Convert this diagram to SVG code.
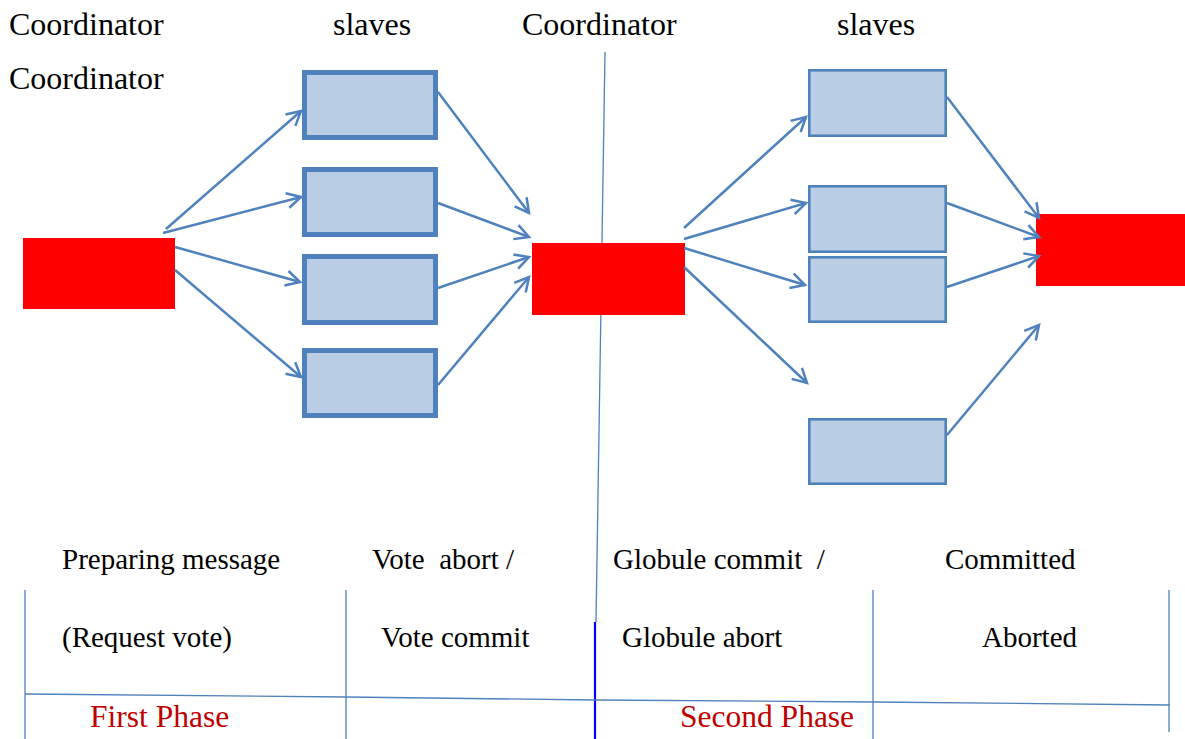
<svg xmlns="http://www.w3.org/2000/svg" width="1185" height="739" viewBox="0 0 1185 739">
  <style>
    .t { font-family: "Liberation Serif", "Times New Roman", serif; font-size: 32px; fill: #000; white-space: pre; }
    .b { font-family: "Liberation Serif", "Times New Roman", serif; font-size: 29px; fill: #000; white-space: pre; }
    .phase { fill: #C00000; font-size: 31.5px; }
    .coord { fill: #FF0000; }
    .slaveA { fill: #B9CDE5; stroke: #4F81BD; stroke-width: 5; }
    .slaveB { fill: #B9CDE5; stroke: #4F81BD; stroke-width: 2.6; }
    .arrow { stroke: #4F81BD; stroke-width: 2.5; fill: none; marker-end: url(#head); }
    .rule { stroke: #4F81BD; stroke-width: 1.3; fill: none; }
  </style>
  <defs>
    <marker id="head" markerUnits="userSpaceOnUse" markerWidth="20" markerHeight="20" viewBox="-16 -10 20 20" refX="0" refY="0" orient="auto">
      <path d="M-14,-7.5 L0,0 L-14,7.5" fill="none" stroke="#4F81BD" stroke-width="2.5" stroke-linejoin="miter"/>
    </marker>
  </defs>

  <rect width="1185" height="739" fill="#fff"/>

  <!-- column headings -->
  <g id="headings">
    <text class="t" x="9" y="35">Coordinator</text>
    <text class="t" x="9" y="89">Coordinator</text>
    <text class="t" x="333" y="35">slaves</text>
    <text class="t" x="522" y="35">Coordinator</text>
    <text class="t" x="837" y="35">slaves</text>
  </g>

  <!-- phase table rules -->
  <g id="table">
    <line class="rule" x1="605" y1="52" x2="596" y2="622"/>
    <line x1="595" y1="622" x2="595" y2="739" stroke="#0000FF" stroke-width="2.2"/>
    <line class="rule" x1="25" y1="590" x2="25" y2="739"/>
    <line class="rule" x1="346" y1="590" x2="346" y2="739"/>
    <line class="rule" x1="873" y1="590" x2="873" y2="739"/>
    <line class="rule" x1="1169" y1="590" x2="1169" y2="732"/>
    <polyline class="rule" points="25,694 346,697 595,700 873,702 1170,705"/>
  </g>

  <!-- coordinators -->
  <g id="coordinator-1"><rect class="coord" x="23" y="238" width="152" height="71"/></g>
  <g id="coordinator-2"><rect class="coord" x="532" y="243" width="153" height="72"/></g>
  <g id="coordinator-3"><rect class="coord" x="1036" y="214" width="149" height="72"/></g>

  <!-- first-phase slaves -->
  <g id="slave-1a"><rect class="slaveA" x="304.5" y="72.5" width="131" height="65"/></g>
  <g id="slave-2a"><rect class="slaveA" x="304.5" y="169.5" width="131" height="65"/></g>
  <g id="slave-3a"><rect class="slaveA" x="304.5" y="256.5" width="131" height="66"/></g>
  <g id="slave-4a"><rect class="slaveA" x="304.5" y="350.5" width="131" height="65"/></g>

  <!-- second-phase slaves -->
  <g id="slave-1b"><rect class="slaveB" x="809.3" y="70.3" width="136.4" height="65.4"/></g>
  <g id="slave-2b"><rect class="slaveB" x="809.3" y="186.3" width="136.4" height="65.4"/></g>
  <g id="slave-3b"><rect class="slaveB" x="809.3" y="257.3" width="136.4" height="64.4"/></g>
  <g id="slave-4b"><rect class="slaveB" x="809.3" y="419.3" width="136.4" height="64.4"/></g>

  <!-- connectors -->
  <g id="connectors">
    <line class="arrow" x1="166" y1="229" x2="301" y2="111"/>
    <line class="arrow" x1="163" y1="233" x2="301" y2="197"/>
    <line class="arrow" x1="175" y1="247" x2="300" y2="282"/>
    <line class="arrow" x1="175" y1="270" x2="301" y2="377"/>

    <line class="arrow" x1="438" y1="92" x2="529" y2="213"/>
    <line class="arrow" x1="438" y1="203" x2="529" y2="237"/>
    <line class="arrow" x1="438" y1="288" x2="529" y2="257"/>
    <line class="arrow" x1="438" y1="385" x2="529" y2="277"/>

    <line class="arrow" x1="684" y1="228" x2="806" y2="117"/>
    <line class="arrow" x1="684" y1="239" x2="806" y2="203"/>
    <line class="arrow" x1="684" y1="248" x2="805" y2="285"/>
    <line class="arrow" x1="684" y1="267" x2="807" y2="383"/>

    <line class="arrow" x1="947" y1="97" x2="1039" y2="218"/>
    <line class="arrow" x1="947" y1="203" x2="1039" y2="237"/>
    <line class="arrow" x1="947" y1="287" x2="1039" y2="256"/>
    <line class="arrow" x1="947" y1="435" x2="1039" y2="325"/>
  </g>

  <!-- phase descriptions -->
  <g id="labels">
    <text class="b" x="62" y="569">Preparing message</text>
    <text class="b" x="62" y="647">(Request vote)</text>
    <text class="b" x="372" y="569">Vote  abort /</text>
    <text class="b" x="381" y="647">Vote commit</text>
    <text class="b" x="613" y="569">Globule commit  /</text>
    <text class="b" x="622" y="647">Globule abort</text>
    <text class="b" x="945" y="569">Committed</text>
    <text class="b" x="982" y="647">Aborted</text>
    <text class="b phase" x="90" y="727">First Phase</text>
    <text class="b phase" x="680" y="727">Second Phase</text>
  </g>
</svg>
